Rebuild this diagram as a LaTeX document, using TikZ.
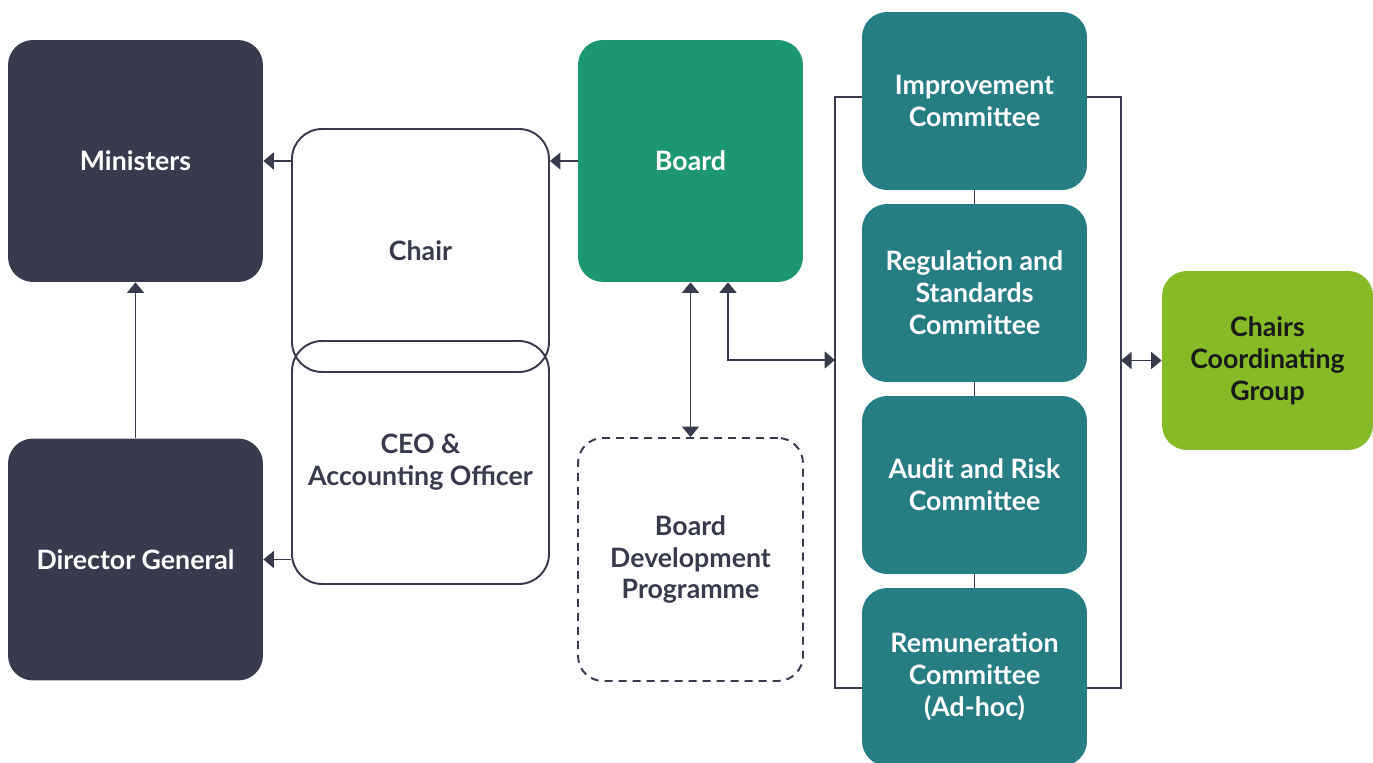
\documentclass[tikz,border=0pt]{standalone}
\usepackage{fontspec}
\setmainfont{Lato}
\usetikzlibrary{arrows.meta, positioning}
\definecolor{navy}{HTML}{383A4D}
\definecolor{boardgreen}{HTML}{1D9672}
\definecolor{cteal}{HTML}{267E84}
\definecolor{lime}{HTML}{86BB27}

\begin{document}
\begin{tikzpicture}[x=0.02cm, y=-0.02cm,
  box/.style={rounded corners=0.5cm, align=center, inner sep=0pt,
    font=\bfseries\fontsize{15.2}{18.2}\selectfont},
  dark/.style={box, fill=navy, text=white, minimum width=5.1cm, minimum height=4.84cm},
  open/.style={box, draw=navy, line width=1.1pt, text=navy, rounded corners=0.6cm,
    minimum width=5.14cm, minimum height=4.86cm},
  board/.style={box, fill=boardgreen, text=white, minimum width=4.5cm, minimum height=4.84cm},
  devbox/.style={box, draw=navy, line width=1.1pt, dash pattern=on 0.16cm off 0.12cm,
    text=navy, minimum width=4.5cm, minimum height=4.86cm},
  cttee/.style={box, fill=cteal, text=white, minimum width=4.5cm, minimum height=3.56cm},
  group/.style={box, fill=lime, text=black!90, minimum width=4.22cm, minimum height=3.58cm},
  link/.style={draw=navy, line width=0.85pt},
  arr/.style={link, -{Triangle[width=0.34cm,length=0.21cm]}},
  arrs/.style={link, {Triangle[width=0.34cm,length=0.21cm]}-{Triangle[width=0.34cm,length=0.21cm]}}]
 \useasboundingbox (0,0) rectangle (1373,763);
 % committees and links between them
 \node[cttee] (imp) at (974.5,101) {Improvement\\Committee};
 \node[cttee] (reg) at (974.5,293) {Regulation and\\Standards\\Committee};
 \node[cttee] (aud) at (974.5,485) {Audit and Risk\\Committee};
 \node[cttee] (rem) at (974.5,677) {Remuneration\\Committee\\(Ad-hoc)};
 \draw[link] (imp.south) -- (reg.north);
 \draw[link] (reg.south) -- (aud.north);
 \draw[link] (aud.south) -- (rem.north);
 \coordinate (tl) at (835,97);
 \coordinate (bl) at (835,688);
 \coordinate (tr) at (1121,97);
 \coordinate (br) at (1121,688);
 \coordinate (mid) at (835,360);
 \draw[link] (imp.west |- tl) -- (tl) -- (bl) -- (rem.west |- bl);
 \draw[link] (imp.east |- tr) -- (tr) -- (br) -- (rem.east |- br);
 %
 \node[group] (ccg) at (1267.5,360.5) {Chairs\\Coordinating\\Group};
 \draw[arrs] (ccg.west -| tr) -- (ccg.west);
 %
 \node[dark] (min) at (135.5,161) {Ministers};
 \node[dark] (dg) at (135.5,559.5) {Director General};
 \node[open] (chair) at (420.5,250.5) {Chair};
 \node[open] (ceo) at (420.5,462.5) {CEO \&\\Accounting Officer};
 \node[board] (board) at (690.5,161) {Board};
 \node[devbox] (bdp) at (690.5,559.5) {Board\\Development\\Programme};
 %
 \draw[arr] (chair.west |- min.east) -- (min.east);
 \draw[arr] (board.west) -- (chair.east |- board.west);
 \draw[arr] (ceo.west |- dg.east) -- (dg.east);
 \draw[arr] (dg.north) -- (min.south);
 \draw[arrs] (board.south) -- (bdp.north);
 \draw[arrs] ([xshift=0.75cm]board.south) |- (mid);
\end{tikzpicture}
\end{document}
